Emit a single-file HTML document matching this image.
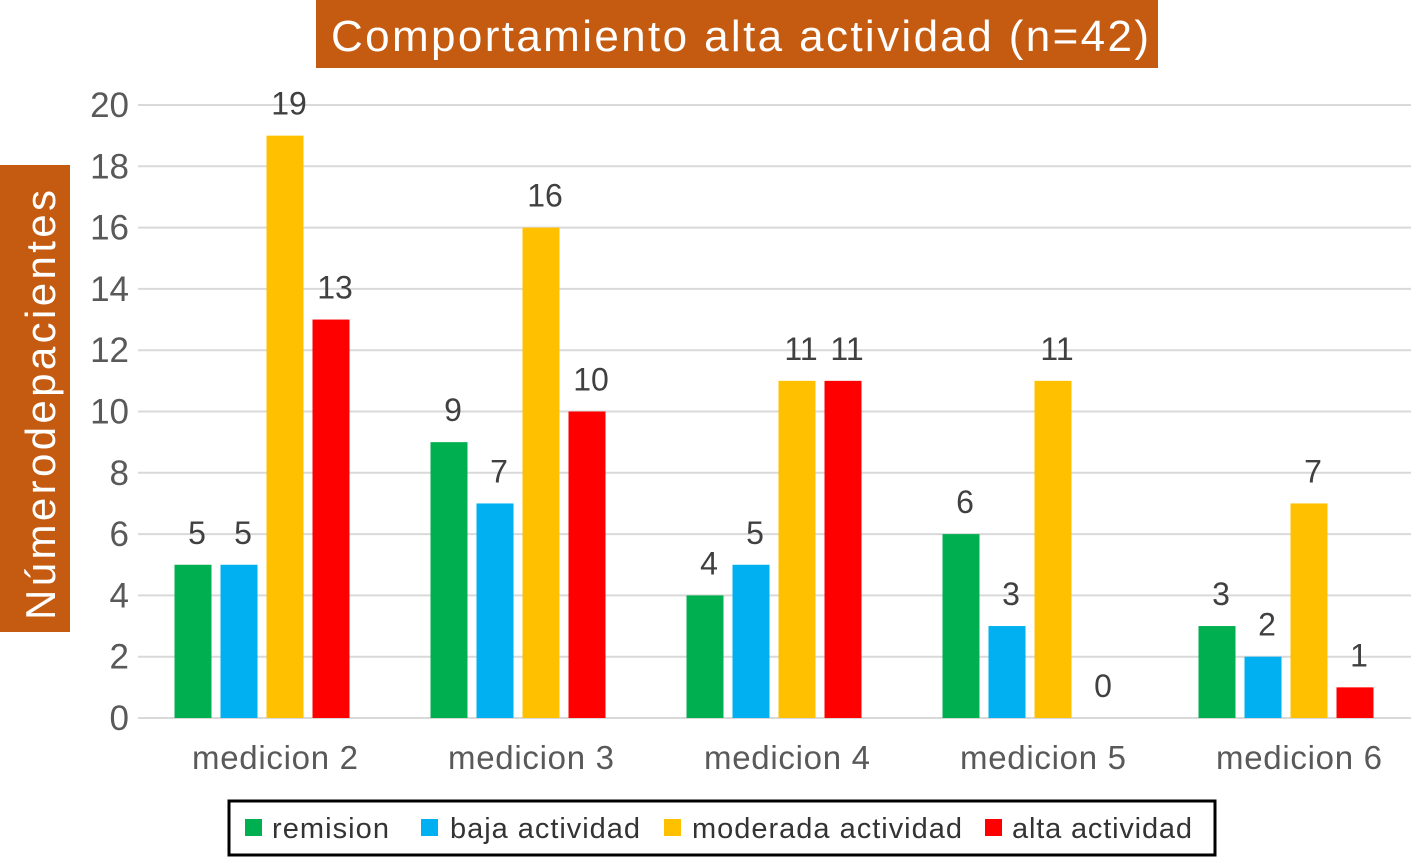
<!DOCTYPE html>
<html><head><meta charset="utf-8"><style>
html,body{margin:0;padding:0;background:#fff;}
svg{display:block;font-family:"Liberation Sans",Arial,sans-serif;}
</style></head><body>
<svg id="chart" width="1411" height="858" viewBox="0 0 1411 858">
<rect x="316" y="0" width="842" height="68" fill="#C55A11"/>
<text x="740" y="51" font-size="44" fill="#fff" text-anchor="middle" textLength="818">Comportamiento alta actividad  (n=42)</text>
<rect x="0" y="165" width="70" height="467" fill="#C55A11"/>
<text x="0" y="0" font-size="42" fill="#fff" text-anchor="middle" textLength="430" transform="translate(55,405) rotate(-90)">Númerodepacientes</text>
<g id="grid"></g><g id="bars"></g><g id="labels"></g>
<rect x="229" y="801" width="986" height="54" fill="none" stroke="#000" stroke-width="3"/>
<g font-size="29" fill="#333">
<rect x="245" y="819" width="17" height="17" fill="#00B050"/>
<text x="272" y="838" textLength="117">remision</text>
<rect x="421" y="819" width="17" height="17" fill="#00B0F0"/>
<text x="450" y="838" textLength="190">baja actividad</text>
<rect x="664" y="819" width="17" height="17" fill="#FFC000"/>
<text x="692" y="838" textLength="270">moderada actividad</text>
<rect x="985" y="819" width="17" height="17" fill="#FF0000"/>
<text x="1012" y="838" textLength="180">alta actividad</text>
</g>
</svg>
<script>
const categories=["medicion 2","medicion 3","medicion 4","medicion 5","medicion 6"];
const remision=[5,9,4,6,3];
const baja=[5,7,5,3,2];
const moderada=[19,16,11,11,7];
const alta=[13,10,11,0,1];
const yTicks=[0,2,4,6,8,10,12,14,16,18,20];
const series=[remision,baja,moderada,alta];
const seriesNames=["remision","baja","moderada","alta"];
const colors=["#00B050","#00B0F0","#FFC000","#FF0000"];
const NS="http://www.w3.org/2000/svg";
const y0=718,yTop=105,yMax=20,x0=134,band=256,bw=37,step=46;
function yS(v){return y0-(y0-yTop)*v/yMax;}
function xC(i){return x0+band*i+band/2;}
function mk(t,a,p){const e=document.createElementNS(NS,t);for(const k in a)e.setAttribute(k,a[k]);p.appendChild(e);return e;}
const grid=document.getElementById('grid'),bars=document.getElementById('bars'),labels=document.getElementById('labels');
yTicks.forEach(t=>{
 const l=mk('line',{x1:138,x2:1411,y1:yS(t),y2:yS(t),stroke:'#d9d9d9','stroke-width':2},grid);
 
 
 const tx=mk('text',{x:129,y:yS(t)+12,'font-size':35,fill:'#595959','text-anchor':'end'},grid);
 tx.textContent=t;
 
 
});
categories.forEach((c,i)=>{
 const tx=mk('text',{x:xC(i)+13,y:769,'font-size':33,fill:'#595959','text-anchor':'middle',textLength:166},labels);
 tx.textContent=c;
 
 
 series.forEach((s,j)=>{
  const x=xC(i)-87.5+j*step;
  const v=s[i];
  const r=mk('rect',{x:x,y:yS(v),width:bw,height:y0-yS(v),fill:colors[j]},bars);
  
  
  const t=mk('text',{x:x+bw/2+4,y:yS(v)-21,'font-size':32,fill:'#404040','text-anchor':'middle'},labels);
  t.textContent=v;
  
  
 });
});
</script>
</body></html>
